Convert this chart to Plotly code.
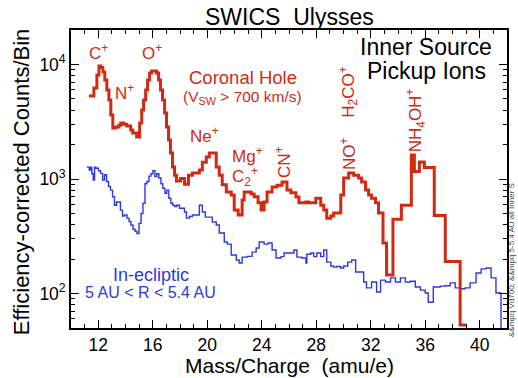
import plotly.graph_objects as go

# Coronal-hole pickup-ion spectrum: lower bin edges (amu/e) and counts per bin
red_lo = [
    11.31, 11.68, 11.90, 12.05, 12.19, 12.34, 12.48, 12.63, 12.78, 12.92,
    13.07, 13.29, 13.51, 13.65, 13.87, 14.09, 14.38, 14.53, 14.82, 15.04,
    15.19, 15.33, 15.48, 15.62, 15.77, 15.92, 16.28, 16.43, 16.57, 16.72,
    16.87, 17.01, 17.16, 17.30, 17.45, 17.60, 17.74, 18.04, 18.33, 18.62,
    18.91, 19.42, 19.64, 19.93, 20.15, 20.66, 20.88, 21.10, 21.40, 21.76,
    21.98, 22.27, 22.56, 22.71, 23.22, 23.44, 23.73, 23.95, 24.17, 24.39,
    24.76, 25.12, 25.49, 25.85, 26.14, 26.51, 26.73, 27.24, 27.46, 27.97,
    28.33, 28.55, 28.77, 29.07, 29.28, 29.80, 30.01, 30.38, 30.75, 31.11,
    31.33, 31.62, 31.84, 32.06, 32.35, 32.57, 32.90, 33.16, 33.63, 34.25,
    34.98, 35.20, 35.57, 35.93, 36.66, 37.47, 38.56,
]
red_counts = [
    5310, 6240, 8100, 9700, 9400, 8600, 7330, 5990, 4900, 3620,
    2790, 2850, 2950, 3080, 3000, 2900, 2680, 2520, 2330, 3080,
    4010, 4900, 5990, 7330, 8430, 8770, 8430, 7330, 5990, 4900,
    3770, 2850, 2190, 1690, 1270, 1080, 960, 1010, 900, 1080,
    1130, 1200, 1400, 1560, 1690, 1270, 1080, 890, 770, 725,
    535, 485, 655, 770, 740, 700, 620, 535, 630, 770,
    850, 880, 940, 800, 760, 695, 620, 630, 620, 680,
    590, 535, 455, 475, 505, 725, 1020, 1130, 1080, 1020,
    940, 800, 725, 680, 620, 505, 276, 145, 445, 590,
    1620, 1160, 1410, 1260, 480, 190, 53,
]
red_hi = 39.00

# In-ecliptic spectrum (5-5.4 AU)
blue_lo = [
    11.15, 11.34, 11.44, 11.53, 11.63, 11.73, 11.83, 12.02, 12.17, 12.32,
    12.46, 12.61, 12.75, 12.90, 13.05, 13.19, 13.34, 13.63, 13.78, 13.92,
    14.11, 14.26, 14.40, 14.55, 14.70, 14.84, 14.99, 15.14, 15.28, 15.43,
    15.57, 15.72, 15.87, 16.01, 16.16, 16.30, 16.45, 16.60, 16.74, 16.89,
    17.03, 17.18, 17.33, 17.47, 17.62, 17.76, 17.96, 18.33, 18.47, 18.69,
    18.91, 19.42, 19.64, 19.86, 20.37, 20.66, 20.88, 21.25, 21.47, 21.76,
    22.13, 22.34, 22.56, 22.93, 23.29, 23.59, 23.81, 24.17, 24.46, 24.76,
    25.05, 25.41, 25.63, 26.36, 26.58, 26.95, 27.24, 27.31, 27.60, 27.82,
    28.04, 28.33, 28.55, 28.77, 29.07, 29.28, 29.50, 29.80, 30.01, 30.31,
    30.60, 30.89, 31.48, 31.69, 32.06, 32.43, 32.72, 33.08, 33.45, 33.81,
    34.18, 34.54, 34.91, 35.27, 35.64, 36.00, 36.22, 36.59, 37.10, 37.47,
    37.83, 38.20, 38.56, 38.93, 39.29, 39.73, 40.10, 40.47, 40.83, 41.19,
    41.56,
]
blue_counts = [
    1270, 1200, 1270, 1110, 980, 1270, 1240, 1180, 1120, 980,
    1090, 950, 860, 800, 700, 590, 630, 535, 475, 485,
    455, 425, 396, 364, 350, 334, 410, 500, 615, 910,
    950, 1060, 1110, 1180, 1050, 1110, 1020, 910, 830, 750,
    800, 680, 615, 590, 575, 590, 555, 515, 455, 470,
    485, 590, 515, 465, 421, 396, 338, 282, 270, 217,
    196, 185, 208, 211, 230, 250, 282, 270, 276, 240,
    204, 210, 226, 240, 208, 204, 185, 220, 226, 210,
    226, 210, 240, 188, 174, 170, 172, 167, 174, 188,
    196, 154, 126, 112, 126, 103, 131, 126, 137, 126,
    137, 126, 128, 114, 107, 101, 84, 114, 116, 117,
    124, 112, 110, 112, 124, 151, 164, 167, 137, 101,
    45,
]
blue_hi = 41.71

x_major = [12, 16, 20, 24, 28, 32, 36, 40]
x_minor = list(range(10, 43))
y_major = [100, 1000, 10000]
y_major_text = ["10<sup>2</sup>", "10<sup>3</sup>", "10<sup>4</sup>"]
y_minor = [k * 10 ** d for d in (1, 2, 3, 4) for k in range(2, 10)
           if 50 <= k * 10 ** d <= 20000]

RED = "#d02a12"
BLUE = "#2c3ae0"
FONT = "Liberation Sans, Arial, Helvetica, sans-serif"
SP = "\u00a0"


def steps(lo, counts, hi):
    """Histogram outline: bin edges with the last count repeated at the end edge."""
    return lo + [hi], counts + [counts[-1]]


fig = go.Figure()
bx, by = steps(blue_lo, blue_counts, blue_hi)
fig.add_trace(go.Scatter(x=bx, y=by, mode="lines", line_shape="hv",
                         line=dict(color=BLUE, width=1.4), showlegend=False))
rx, ry = steps(red_lo, red_counts, red_hi)
fig.add_trace(go.Scatter(x=rx, y=ry, mode="lines", line_shape="hv",
                         line=dict(color=RED, width=3), showlegend=False))

axis_common = dict(
    showline=True, linecolor="black", linewidth=1.6, mirror="allticks",
    ticks="inside", ticklen=8, tickwidth=1.2, tickcolor="black",
    showgrid=False, zeroline=False,
    tickfont=dict(family=FONT, size=17.5, color="black"),
)

fig.update_xaxes(
    range=[10, 42], tickmode="array", tickvals=x_major,
    minor=dict(tickmode="array", tickvals=x_minor, ticks="inside",
               ticklen=4, tickwidth=1, tickcolor="black"),
    **axis_common,
)
fig.update_yaxes(
    type="log", range=[1.69897, 4.30103], tickmode="array",
    tickvals=y_major, ticktext=y_major_text,
    minor=dict(tickmode="array", tickvals=y_minor, ticks="inside",
               ticklen=4, tickwidth=1, tickcolor="black"),
    **axis_common,
)


def label(text, x, y, size=16, color=RED, angle=0):
    fig.add_annotation(text=text, x=x, y=y, xref="paper", yref="paper",
                       xanchor="center", yanchor="middle",
                       showarrow=False, textangle=angle,
                       font=dict(family=FONT, size=size, color=color))


# titles
label(f"SWICS{SP}{SP}Ulysses", 0.5, 1.044, size=23, color="black")
label(f"Mass/Charge{SP}{SP}(amu/e)", 0.5, -0.127, size=21, color="black")
label("Efficiency-corrected Counts/Bin", -0.112, 0.49, size=22,
      color="black", angle=-90)
label("Inner Source", 0.815, 0.943, size=23, color="black")
label("Pickup Ions", 0.815, 0.863, size=23, color="black")

# species labels
label("C<sup>+</sup>", 0.064, 0.927, size=17)
label("N<sup>+</sup>", 0.122, 0.793, size=17)
label("O<sup>+</sup>", 0.185, 0.926, size=17)
label("Coronal Hole", 0.395, 0.842, size=18.5)
label("(V<sub>SW</sub> > 700 km/s)", 0.393, 0.772, size=15.5)
label("Ne<sup>+</sup>", 0.306, 0.648, size=17)
label("Mg<sup>+</sup>", 0.405, 0.582, size=17)
label("C<sub>2</sub><sup>+</sup>", 0.398, 0.51, size=17)
label("CN<sup>+</sup>", 0.486, 0.557, size=17, angle=-90)
label("NO<sup>+</sup>", 0.635, 0.587, size=17, angle=-90)
label("H<sub>2</sub>CO<sup>+</sup>", 0.637, 0.792, size=17, angle=-90)
label("NH<sub>4</sub>OH<sup>+</sup>", 0.792, 0.698, size=17, angle=-90)

label("In-ecliptic", 0.183, 0.178, size=18, color=BLUE)
label("5 AU < R < 5.4 AU", 0.183, 0.118, size=16, color=BLUE)

label("&&mpq Vd700; &&mpq 5-5.4 AU all Inner S", 1.009, 0.228, size=8,
      color="#444444", angle=-90)

fig.update_layout(
    width=518, height=378,
    margin=dict(l=71, r=9, t=30, b=50),
    paper_bgcolor="white", plot_bgcolor="white",
    font=dict(family=FONT, color="black"),
)

fig.write_html("out.html")
